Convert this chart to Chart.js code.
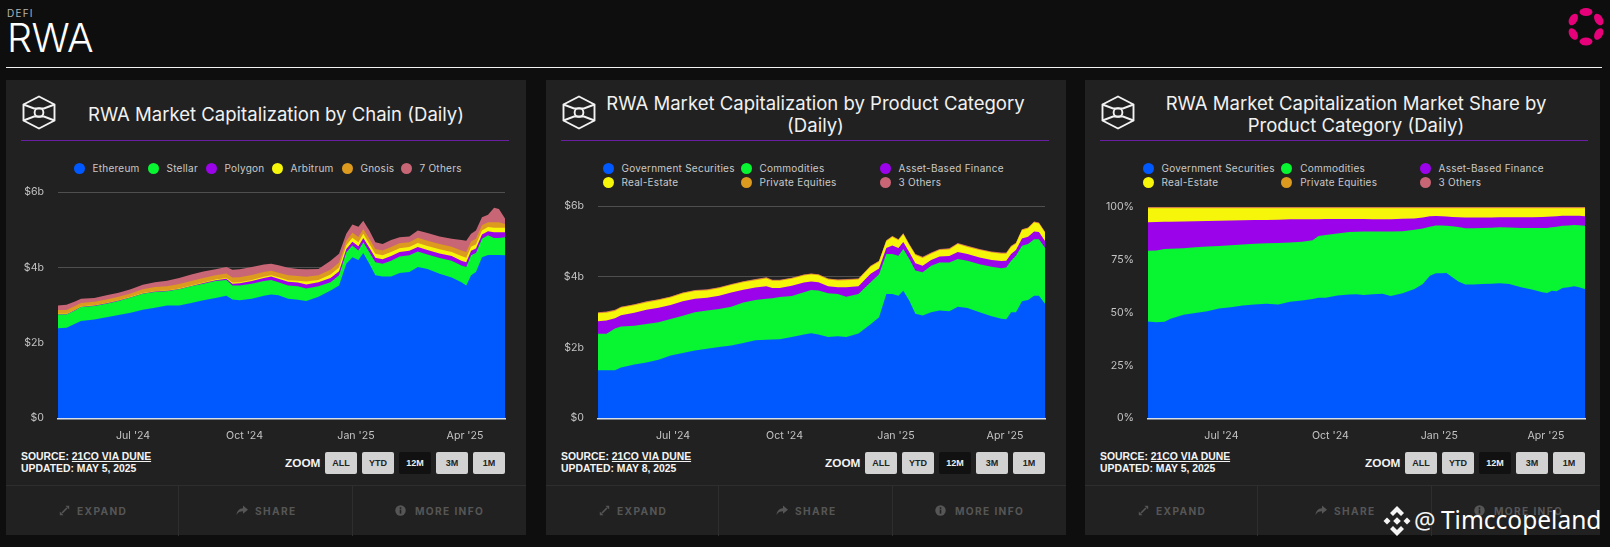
<!DOCTYPE html>
<html>
<head>
<meta charset="utf-8">
<title>RWA</title>
<script src="https://cdn.jsdelivr.net/npm/chart.js@4"></script>
<style>
  html, body { margin: 0; padding: 0; background: #0e0e0e; }
  body { position: relative; width: 1610px; height: 547px; overflow: hidden; font-family: Inter, sans-serif; color: #fff; }
  .abs { position: absolute; }
  #defi { left: 7px; top: 7px; font-size: 10px; letter-spacing: 1.2px; color: #b5b5b5; }
  #page-title { left: 7px; top: 16px; font-size: 39.5px; font-weight: 300; line-height: 44px; letter-spacing: -0.5px; }
  #rule { left: 6px; top: 67px; width: 1596px; height: 1px; background: #f2f2f2; }
  #logo { left: 1561px; top: 1px; }
  .card { position: absolute; top: 80px; height: 455px; background: #212121; }
  .card canvas { position: absolute; left: 0; top: 80px; }
  .icon { position: absolute; top: 15px; }
  .card-title { position: absolute; font-size: 18.55px; line-height: 22px; text-align: center; color: #f1f1f1; white-space: nowrap; transform: translateX(-50%); }
  .purple { position: absolute; top: 60px; height: 1px; background: #6a1fa3; }
  .legend { position: absolute; font-size: 10px; color: #c9c9c9; letter-spacing: 0.25px; }
  .legend .item { position: absolute; white-space: nowrap; line-height: 13px; }
  .legend .dot { position: absolute; left: -5.5px; top: 1px; width: 11px; height: 11px; border-radius: 50%; }
  .legend .txt { position: absolute; left: 13.5px; top: 0; }
  .source { position: absolute; top: 371px; font: bold 10.4px/12.2px "Liberation Sans", Arial, sans-serif; color: #f4f4f4; white-space: nowrap; }
  .source u { text-underline-offset: 1px; }
  .zoom-lbl { position: absolute; top: 376px; font: bold 11.8px/14px "Liberation Sans", Arial, sans-serif; color: #f4f4f4; }
  .btn { position: absolute; top: 372px; width: 32px; height: 22px; border-radius: 2px; background: #d2d2d2; color: #222; text-align: center; font: bold 9px/23px "Liberation Sans", Arial, sans-serif; }
  .btn.on { background: #111; color: #eee; }
  .foot { position: absolute; left: 0; right: 0; top: 405px; height: 50px; border-top: 1px solid #2e2e2e; }
  .foot .sep { position: absolute; top: 0; bottom: 0; width: 1px; background: #2e2e2e; }
  .foot .f { position: absolute; top: 19px; font: bold 10.2px/13px Inter, sans-serif; letter-spacing: 1.35px; color: #565656; white-space: nowrap; }
  .foot svg { position: absolute; top: 19px; }
  #mark { left: 1383px; top: 506px; }
  #mark-at { left: 1414px; top: 502px; font: 24px/36px "Noto Sans", sans-serif; color: #f4f4f4; }
  #mark-name { left: 1441px; top: 502px; font: 24.5px/36px "Noto Sans", sans-serif; color: #fff; white-space: nowrap; }
</style>
</head>
<body>
<div class="abs" id="defi">DEFI</div>
<div class="abs" id="page-title">RWA</div>
<div class="abs" id="rule"></div>
<svg class="abs" id="logo" width="50" height="50" viewBox="0 0 50 50" fill="#e6007a">
  <ellipse cx="25" cy="11" rx="6.5" ry="4"/>
  <ellipse cx="25" cy="40.5" rx="6.5" ry="4"/>
  <ellipse cx="12.3" cy="18.5" rx="6.3" ry="4" transform="rotate(-60 12.3 18.5)"/>
  <ellipse cx="37.7" cy="18.5" rx="6.3" ry="4" transform="rotate(60 37.7 18.5)"/>
  <ellipse cx="12.3" cy="33" rx="6.3" ry="4" transform="rotate(60 12.3 33)"/>
  <ellipse cx="37.7" cy="33" rx="6.3" ry="4" transform="rotate(-60 37.7 33)"/>
</svg>
<div id="cards"></div>
<svg class="abs" id="mark" width="28" height="30" viewBox="0 0 28 30" fill="#f4f4f4">
  <path d="M14 0l7 7-3 3-4-4-4 4-3-3z"/>
  <path d="M14 30l7-7-3-3-4 4-4-4-3 3z"/>
  <path d="M4 11.5L7.5 15 4 18.5.5 15z"/>
  <path d="M24 11.5L27.5 15 24 18.5 20.5 15z"/>
  <path d="M14 11.2L17.8 15 14 18.8 10.2 15z"/>
</svg>
<div class="abs" id="mark-at">@</div>
<div class="abs" id="mark-name">Timccopeland</div>

<script>
// Day offsets from the start of the 12M window (roughly May 2024 to May 2025)
const days = [0,7,14,19,30,40,50,60,70,80,90,100,110,120,130,139,144,150,160,170,176,182,190,198,205,215,225,232,238,243,248,252,257,262,268,275,282,290,297,305,315,325,333,337,341,345,350,355,360,364,369];
const tickDays = [62,154,246,336];
const tickLabels = ["Jul '24","Oct '24","Jan '25","Apr '25"];

// Chart 1: market cap by chain, $b
const chainNames = ["Ethereum","Stellar","Polygon","Arbitrum","Gnosis","7 Others"];
const ethereum = [2.39,2.40,2.51,2.58,2.62,2.68,2.74,2.80,2.88,2.93,2.99,2.99,3.06,3.13,3.19,3.25,3.15,3.13,3.17,3.25,3.28,3.26,3.17,3.14,3.11,3.22,3.39,3.52,4.10,4.27,4.20,4.38,4.10,3.79,3.76,3.76,3.85,3.88,4.01,3.96,3.83,3.73,3.61,3.52,3.79,3.88,4.27,4.33,4.33,4.33,4.32];
const stellar = [.36,.35,.35,.37,.36,.36,.37,.40,.42,.42,.38,.43,.44,.44,.45,.42,.37,.39,.40,.39,.39,.35,.35,.36,.33,.28,.22,.27,.30,.31,.25,.29,.30,.35,.34,.42,.44,.44,.41,.38,.42,.45,.44,.49,.53,.50,.49,.52,.45,.45,.48];
const polygon = [.01,.01,.01,.01,.01,.01,.01,.01,.01,.01,.01,.01,.01,.02,.02,.03,.05,.06,.07,.08,.09,.09,.10,.10,.11,.11,.11,.11,.09,.10,.11,.11,.12,.12,.12,.12,.12,.12,.12,.12,.12,.12,.13,.13,.12,.12,.11,.11,.15,.15,.13];
const arbitrum = [.01,.01,.01,.01,.01,.01,.01,.01,.01,.01,.01,.01,.01,.01,.02,.02,.03,.03,.03,.03,.03,.04,.04,.05,.08,.06,.09,.10,.10,.11,.11,.11,.11,.10,.10,.11,.10,.10,.11,.11,.11,.11,.12,.12,.11,.11,.11,.11,.12,.12,.12];
const gnosis = [.10,.10,.10,.09,.09,.09,.09,.09,.10,.11,.11,.12,.12,.12,.11,.12,.13,.13,.13,.13,.12,.12,.13,.12,.12,.12,.13,.13,.12,.13,.14,.13,.13,.13,.13,.13,.13,.13,.14,.14,.14,.14,.15,.15,.14,.15,.14,.13,.15,.15,.10];
const chainOthers = [.12,.14,.12,.11,.10,.11,.11,.11,.12,.13,.15,.16,.17,.17,.16,.17,.21,.21,.21,.20,.19,.20,.20,.19,.20,.17,.24,.23,.18,.22,.27,.22,.22,.18,.17,.19,.16,.15,.19,.20,.20,.21,.28,.30,.20,.22,.21,.20,.38,.35,.15];

// Chart 2: market cap by product category, $b
const categoryNames = ["Government Securities","Commodities","Asset-Based Finance","Real-Estate","Private Equities","3 Others"];
const govCap = [1.36,1.36,1.36,1.44,1.52,1.58,1.66,1.78,1.85,1.92,1.97,2.02,2.06,2.13,2.21,2.22,2.23,2.24,2.30,2.37,2.41,2.37,2.30,2.32,2.30,2.40,2.66,2.86,3.52,3.52,3.47,3.61,3.33,2.96,2.91,3.00,3.05,3.03,3.16,3.12,3.00,2.89,2.82,2.80,3.00,3.00,3.31,3.35,3.47,3.47,3.24];
const commoditiesCap = [1.03,1.03,1.18,1.16,1.10,1.09,1.06,1.03,1.05,1.08,1.08,1.07,1.10,1.15,1.14,1.16,1.17,1.19,1.16,1.20,1.22,1.25,1.24,1.20,1.14,1.12,1.19,1.22,1.13,1.13,1.13,1.18,1.18,1.22,1.22,1.32,1.36,1.38,1.35,1.34,1.36,1.40,1.43,1.47,1.46,1.60,1.57,1.58,1.60,1.60,1.59];
const financeCap = [.36,.38,.29,.32,.37,.40,.41,.40,.41,.38,.36,.38,.40,.36,.35,.36,.29,.26,.29,.27,.24,.23,.20,.19,.27,.22,.24,.16,.17,.24,.22,.20,.19,.21,.19,.16,.17,.18,.20,.19,.19,.19,.20,.19,.19,.16,.21,.21,.22,.20,.19];
const estateCap = [.22,.22,.21,.21,.21,.21,.21,.21,.22,.22,.21,.21,.21,.21,.21,.22,.20,.20,.20,.20,.20,.20,.19,.19,.20,.19,.20,.19,.19,.24,.22,.22,.20,.23,.22,.18,.18,.19,.22,.20,.21,.21,.21,.20,.20,.18,.23,.23,.25,.24,.23];
const equitiesCap = [.02,.02,.02,.02,.02,.02,.02,.02,.02,.02,.02,.02,.02,.02,.02,.02,.02,.02,.02,.02,.02,.02,.02,.02,.02,.02,.02,.02,.02,.02,.02,.02,.02,.02,.02,.02,.02,.02,.02,.02,.02,.02,.02,.02,.02,.02,.02,.02,.02,.02,.02];
const othersCap = [.01,.01,.01,.01,.01,.01,.01,.01,.01,.01,.01,.01,.01,.01,.01,.01,.01,.01,.01,.01,.01,.01,.01,.01,.01,.01,.01,.01,.01,.01,.01,.01,.01,.01,.01,.01,.01,.01,.01,.01,.01,.01,.01,.01,.01,.01,.01,.01,.01,.01,.01];

// Chart 3: market share by product category, %
const govShare = [45.8,45.5,45.7,47.1,49.0,49.8,50.7,52.0,52.6,53.4,53.8,54.2,53.8,55.1,55.7,56.5,57.0,57.0,58.1,58.6,58.7,58.4,58.7,58.9,57.9,59.2,61.2,63.6,67.5,68.6,68.6,68.8,66.7,64.7,63.3,63.3,63.6,63.7,63.9,63.6,62.0,60.8,59.7,59.3,60.4,60.1,61.7,62.0,62.5,62.0,61.2];
const commoditiesShare = [33.5,33.9,34.4,33.1,31.5,31.1,30.6,29.6,29.3,28.8,28.8,28.6,29.2,28.1,27.8,27.8,29.3,29.7,29.3,29.6,29.6,30.0,29.7,29.5,30.5,29.3,28.0,26.2,23.2,22.6,22.6,22.3,24.2,25.8,26.7,26.7,26.5,26.5,26.5,26.7,28.1,29.3,30.4,30.8,30.0,30.5,29.4,29.3,29.0,29.4,29.9];
const financeShare = [13.5,13.5,12.9,12.8,12.6,12.3,12.1,11.9,11.7,11.5,11.2,11.1,11.0,11.0,10.7,9.9,7.9,7.6,6.9,6.1,6.0,5.9,5.8,5.8,5.8,5.9,5.4,5.2,4.9,4.5,4.4,4.4,4.4,4.6,5.0,5.0,4.9,4.8,4.7,4.8,5.1,5.1,5.2,5.3,5.1,5.0,4.8,4.6,4.4,4.4,4.5];
const estateShare = [6.6,6.5,6.4,6.4,6.3,6.2,6.0,5.9,5.8,5.7,5.6,5.5,5.4,5.2,5.2,5.2,5.2,5.1,5.1,5.1,5.1,5.1,5.2,5.2,5.2,5.0,4.8,4.4,3.8,3.7,3.8,3.9,4.1,4.3,4.4,4.4,4.4,4.4,4.3,4.3,4.2,4.2,4.1,4.0,3.9,3.8,3.5,3.5,3.5,3.6,3.8];
const equitiesShare = [.4,.4,.4,.4,.4,.4,.4,.4,.4,.4,.4,.4,.4,.4,.4,.4,.4,.4,.4,.4,.4,.4,.4,.4,.4,.4,.4,.4,.4,.4,.4,.4,.4,.4,.4,.4,.4,.4,.4,.4,.4,.4,.4,.4,.4,.4,.4,.4,.4,.4,.4];
const othersShare = [.2,.2,.2,.2,.2,.2,.2,.2,.2,.2,.2,.2,.2,.2,.2,.2,.2,.2,.2,.2,.2,.2,.2,.2,.2,.2,.2,.2,.2,.2,.2,.2,.2,.2,.2,.2,.2,.2,.2,.2,.2,.2,.2,.2,.2,.2,.2,.2,.2,.2,.2];

const capTicks = [0,2,4,6];
const shareTicks = [0,25,50,75,100];
const colors = ["#0059ff","#08f531","#9b04ea","#f6f60a","#dc9a1e","#c86676"];
const zoomButtons = ["ALL","YTD","12M","3M","1M"];

const cubeIcon = `<svg class="icon" width="34" height="35" viewBox="0 0 34 35" fill="none" stroke="#f2f2f2" stroke-width="1.9">
  <path d="M17 1.5L32.5 9.5V25.5L17 33.5L1.5 25.5V9.5Z"/><path d="M1.5 9.5L12 13.5H22L32.5 9.5M1.5 25.5L12 21.5H22L32.5 25.5"/><circle cx="17" cy="17.5" r="4.4"/></svg>`;
const expandIcon = `<svg width="11" height="11" viewBox="0 0 11 11" stroke="#565656" stroke-width="1.6" fill="#565656"><path d="M3 8L8 3"/><path d="M6.5 .8h3.7v3.7zM.8 6.5v3.7h3.7z" stroke="none"/></svg>`;
const shareIcon = `<svg width="12" height="11" viewBox="0 0 12 11" fill="#565656"><path d="M7 .5L12 4.7 7 8.8V6.2C4 6.2 2 7.2.5 10 1 6 3 3.3 7 3.2z"/></svg>`;
const infoIcon = `<svg width="11" height="11" viewBox="0 0 11 11"><circle cx="5.5" cy="5.5" r="5.2" fill="#565656"/><rect x="4.7" y="4.6" width="1.6" height="4" fill="#212121"/><rect x="4.7" y="2.3" width="1.6" height="1.6" fill="#212121"/></svg>`;

// Build one card: the chrome around the chart, then the chart itself
function buildCard(cfg) {
  const card = document.createElement("div");
  card.className = "card";
  card.style.left = cfg.left + "px";
  card.style.width = cfg.width + "px";

  let html = cubeIcon.replace('class="icon"', `class="icon" style="left:${cfg.iconX}px"`);
  html += `<div class="card-title" style="left:${cfg.titleX}px;top:${cfg.titleY}px">${cfg.title.join("<br>")}</div>`;
  html += `<div class="purple" style="left:15px;width:${cfg.ruleW}px"></div>`;

  // Legend, from the series names
  html += `<div class="legend" style="left:0;top:0">`;
  cfg.names.forEach((name, i) => {
    const pos = cfg.legendPos[i];
    html += `<div class="item" style="left:${pos[0]}px;top:${pos[1]}px"><span class="dot" style="background:${colors[i]}"></span><span class="txt">${name}</span></div>`;
  });
  html += `</div>`;

  html += `<div class="source" style="left:15px">SOURCE: <u>21CO VIA DUNE</u><br>UPDATED: ${cfg.updated}</div>`;

  const btnRight = cfg.plotRight;
  html += `<div class="zoom-lbl" style="left:${btnRight - 220}px">ZOOM</div>`;
  zoomButtons.forEach((b, i) => {
    const x = btnRight - 32 - (zoomButtons.length - 1 - i) * 37;
    html += `<div class="btn${b === "12M" ? " on" : ""}" style="left:${x}px">${b}</div>`;
  });

  html += `<div class="foot"><div class="sep" style="left:172px"></div><div class="sep" style="left:346px"></div>
    <span style="position:absolute;left:53px;top:0">${expandIcon}</span><div class="f" style="left:71px">EXPAND</div>
    <span style="position:absolute;left:230px;top:0">${shareIcon}</span><div class="f" style="left:249px">SHARE</div>
    <span style="position:absolute;left:389px;top:0">${infoIcon}</span><div class="f" style="left:409px">MORE INFO</div></div>`;

  html += `<canvas width="${cfg.width}" height="285"></canvas>`;
  card.innerHTML = html;
  document.getElementById("cards").appendChild(card);

  const datasets = cfg.series.map((values, i) => ({
    label: cfg.names[i],
    data: values.map((v, j) => ({ x: days[j], y: v })),
    backgroundColor: colors[i],
    borderWidth: 0,
    pointRadius: 0,
    fill: true,
    tension: 0
  }));

  new Chart(card.querySelector("canvas"), {
    type: "line",
    data: { datasets },
    options: {
      responsive: false,
      animation: false,
      parsing: false,
      normalized: true,
      layout: { autoPadding: false, padding: { top: cfg.padTop, right: cfg.width - cfg.plotRight, left: 0, bottom: 0 } },
      plugins: { legend: { display: false }, tooltip: { enabled: false } },
      scales: {
        x: {
          type: "linear",
          min: 0,
          max: 369,
          afterBuildTicks: axis => { axis.ticks = tickDays.map(v => ({ value: v })); },
          afterFit: axis => { axis.height = 26.7; },
          grid: { display: false },
          border: { display: true, color: "#d6deea", width: 1.4, z: 1 },
          ticks: {
            autoSkip: false, maxRotation: 0, padding: 3, color: "#c4c4c4",
            font: { family: "Inter", size: 10.6 },
            callback: v => tickLabels[tickDays.indexOf(v)]
          }
        },
        y: {
          stacked: true,
          min: 0,
          max: cfg.yTicks[cfg.yTicks.length - 1],
          afterBuildTicks: axis => { axis.ticks = cfg.yTicks.map(v => ({ value: v })); },
          afterFit: axis => { axis.width = cfg.plotLeft; },
          grid: { color: "#4f4f4f", drawTicks: false, lineWidth: 1 },
          border: { display: false },
          ticks: {
            padding: 14, color: "#c4c4c4",
            font: { family: "Inter", size: 10.6 },
            callback: cfg.yFormat
          }
        }
      }
    }
  });
}

buildCard({
  left: 6, width: 520, iconX: 16, titleX: 270, titleY: 23,
  title: ["RWA Market Capitalization by Chain (Daily)"],
  ruleW: 488, names: chainNames, updated: "MAY 5, 2025",
  legendPos: [[73,82],[147,82],[205,82],[271,82],[341,82],[400,82]],
  series: [ethereum, stellar, polygon, arbitrum, gnosis, chainOthers],
  yTicks: capTicks, yFormat: v => "$" + v + (v ? "b" : ""),
  plotLeft: 52, plotRight: 499, padTop: 32
});
buildCard({
  left: 546, width: 520, iconX: 16, titleX: 269.5, titleY: 12,
  title: ["RWA Market Capitalization by Product Category", "(Daily)"],
  ruleW: 488, names: categoryNames, updated: "MAY 8, 2025",
  legendPos: [[62,81.5],[200,81.5],[339,81.5],[62,95.5],[200,95.5],[339,95.5]],
  series: [govCap, commoditiesCap, financeCap, estateCap, equitiesCap, othersCap],
  yTicks: capTicks, yFormat: v => "$" + v + (v ? "b" : ""),
  plotLeft: 52, plotRight: 499, padTop: 46.3
});
buildCard({
  left: 1085, width: 515, iconX: 16, titleX: 271, titleY: 12,
  title: ["RWA Market Capitalization Market Share by", "Product Category (Daily)"],
  ruleW: 488, names: categoryNames, updated: "MAY 5, 2025",
  legendPos: [[63,81.5],[201.7,81.5],[340,81.5],[63,95.5],[201.7,95.5],[340,95.5]],
  series: [govShare, commoditiesShare, financeShare, estateShare, equitiesShare, othersShare],
  yTicks: shareTicks, yFormat: v => v + "%",
  plotLeft: 63, plotRight: 500, padTop: 47
});
</script>
</body>
</html>
